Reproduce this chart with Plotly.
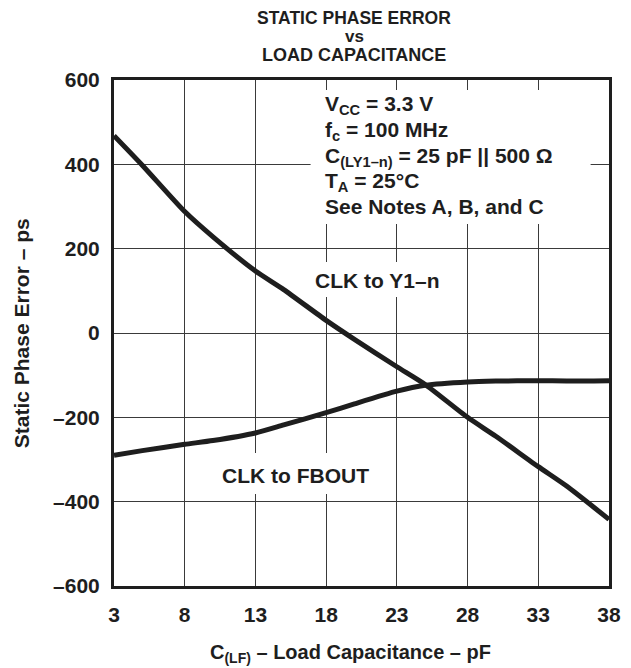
import plotly.graph_objects as go

# Data
load_cap_pf = [3, 5, 8, 10, 13, 15, 18, 20, 23, 25, 28, 30, 33, 35, 38]
clk_to_y1n_ps = [468, 398, 288, 228, 147, 103, 30, -15, -80, -122, -200, -245, -317, -363, -442]
clk_to_fbout_ps = [-290, -279, -264, -255, -237, -218, -189, -168, -138, -124, -116, -114, -113, -114, -113]

x_ticks = [3, 8, 13, 18, 23, 28, 33, 38]
y_ticks = [-600, -400, -200, 0, 200, 400, 600]
y_tick_text = ["\u2013600", "\u2013400", "\u2013200", "0", "200", "400", "600"]

conditions = [
    "V<sub>CC</sub> = 3.3 V",
    "f<sub>c</sub> = 100 MHz",
    "C<sub>(LY1\u2013n)</sub> = 25 pF || 500 \u03a9",
    "T<sub>A</sub> = 25\u00b0C",
    "See Notes A, B, and C",
]
condition_ypx = [105, 131, 157, 182, 206]

FONT = "Liberation Sans, Arial, sans-serif"
INK = "#1e1e1e"

# plot area in page pixels (the page body adds an 8px offset)
PL, PR, PT, PB = 114, 621, 80, 586
PW, PH = PR - PL, PB - PT


def ydata(ypx):
    return 600 - (ypx - PT) / PH * 1200


fig = go.Figure()
for ys, name in [(clk_to_y1n_ps, "CLK to Y1\u2013n"), (clk_to_fbout_ps, "CLK to FBOUT")]:
    fig.add_trace(go.Scatter(
        x=load_cap_pf, y=ys, mode="lines", name=name,
        line=dict(color=INK, width=5, shape="spline", smoothing=0.6),
        showlegend=False,
    ))

shapes = [
    dict(type="rect", xref="x", yref="y", x0=16.9, x1=36.7, y0=ydata(224), y1=ydata(90),
         fillcolor="white", line=dict(width=0), layer="between"),
    dict(type="rect", xref="x", yref="y", x0=17.3, x1=26.0, y0=ydata(297), y1=ydata(262),
         fillcolor="white", line=dict(width=0), layer="between"),
    dict(type="rect", xref="x", yref="y", x0=10.6, x1=21.0, y0=ydata(494), y1=ydata(453),
         fillcolor="white", line=dict(width=0), layer="between"),
]

ann = []
for txt, ypx in zip(conditions, condition_ypx):
    ann.append(dict(x=17.77, y=ydata(ypx), xref="x", yref="y", text="<b>" + txt + "</b>",
                    showarrow=False, xanchor="left", yanchor="middle",
                    font=dict(family=FONT, size=21, color=INK)))
ann.append(dict(x=21.6, y=ydata(280), xref="x", yref="y", text="<b>CLK to Y1\u2013n</b>",
                showarrow=False, font=dict(family=FONT, size=21, color=INK)))
ann.append(dict(x=15.84, y=ydata(475), xref="x", yref="y", text="<b>CLK to FBOUT</b>",
                showarrow=False, font=dict(family=FONT, size=21, color=INK)))

title_lines = [("STATIC PHASE ERROR", 18, 17.5), ("vs", 36, 17), ("LOAD CAPACITANCE", 55, 18)]
for txt, ypx, fs in title_lines:
    ann.append(dict(x=(360 - PL) / PW, y=1 + (PT - ypx) / PH, xref="paper", yref="paper",
                    text="<b>" + txt + "</b>", showarrow=False, yanchor="middle",
                    font=dict(family=FONT, size=fs, color=INK)))

ann.append(dict(x=(19 - PL) / PW, y=0.5, xref="paper", yref="paper",
                text="<b>Static Phase Error \u2013 ps</b>", textangle=-90, showarrow=False,
                xanchor="center", yanchor="middle", font=dict(family=FONT, size=21, color=INK)))
ann.append(dict(x=(356 - PL) / PW, y=-(653 - PB) / PH, xref="paper", yref="paper",
                text="<b>C<sub>(LF)</sub> \u2013 Load Capacitance \u2013 pF</b>", showarrow=False,
                xanchor="center", yanchor="middle", font=dict(family=FONT, size=20, color=INK)))

fig.update_layout(
    width=623, height=660,
    margin=dict(l=PL - 8, r=623 - (PR - 8), t=PT - 8, b=660 - (PB - 8)),
    paper_bgcolor="white", plot_bgcolor="white",
    font=dict(family=FONT, color=INK),
    shapes=shapes, annotations=ann,
)

fig.update_xaxes(range=[3, 38], tickmode="array", tickvals=x_ticks,
                 ticktext=[f"<b>{v}</b>" for v in x_ticks],
                 showgrid=True, gridcolor="#3a3a3a", gridwidth=1, zeroline=False,
                 showline=True, linecolor=INK, linewidth=3, mirror=True,
                 ticks="", ticklabelstandoff=8,
                 tickfont=dict(family=FONT, size=21, color=INK))
fig.update_yaxes(range=[-600, 600], tickmode="array", tickvals=y_ticks,
                 ticktext=[f"<b>{t}</b>" for t in y_tick_text],
                 showgrid=True, gridcolor="#3a3a3a", gridwidth=1, zeroline=False,
                 showline=True, linecolor=INK, linewidth=3, mirror=True,
                 ticks="", ticklabelstandoff=7,
                 tickfont=dict(family=FONT, size=21, color=INK))

fig.write_html("out.html")
